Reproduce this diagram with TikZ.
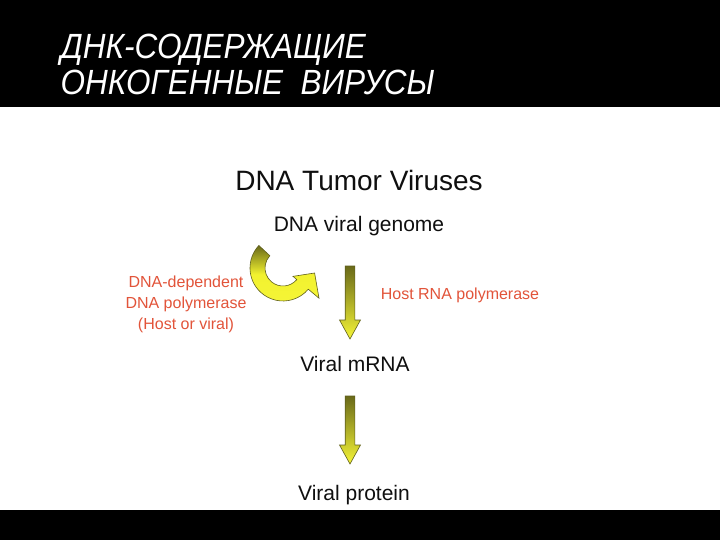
\documentclass[tikz,border=0pt]{standalone}
\usepackage{fontspec}
\setmainfont{Liberation Sans}
\newfontfamily\titlefont[FakeStretch=0.9]{Liberation Sans}

\definecolor{arrowdark}{RGB}{105,105,25}
\definecolor{arrowedge}{RGB}{95,95,30}
\definecolor{arrowmid}{RGB}{228,228,15}
\definecolor{arrowlight}{RGB}{245,245,55}
\definecolor{labelred}{RGB}{226,84,58}
\definecolor{bodytext}{RGB}{15,15,15}

\tikzset{every picture/.style={line width=0.75pt}}
\tikzset{
	arrow shade/.style={draw=arrowedge, line width=0.6pt, top color=arrowdark, middle color=arrowmid, bottom color=arrowlight},
	title text/.style={text=white, anchor=base west, font=\titlefont\itshape\fontsize{35}{40}\selectfont},
	step text/.style={text=bodytext, anchor=base, font=\fontsize{21}{25}\selectfont},
	enzyme text/.style={text=labelred, align=center, font=\fontsize{16}{21}\selectfont},
	pics/blockdown/.style={code={
		\shade[arrow shade] (-4.8,0) -- (4.8,0) -- (4.8,-#1+19) -- (10.5,-#1+19) -- (0,-#1) -- (-10.5,-#1+19) -- (-4.8,-#1+19) -- cycle ;
	}}
}

\begin{document}
\begin{tikzpicture}[x=1pt,y=1pt,yscale=-1,xscale=1]
	\useasboundingbox (0,0) rectangle (720,540);

	%Shape: Rectangle [background]
	\fill [white] (0,0) rectangle (720,540);
	%Shape: Rectangle [top band]
	\fill [black] (0,0) rectangle (720,107);
	%Shape: Rectangle [bottom band]
	\fill [black] (0,510) rectangle (720,540);

	% Text Node
	\node [title text] (title1) at (57,59) {ДНК-СОДЕРЖАЩИЕ};
	% Text Node
	\node [title text] (title2) at (57,95) {ОНКОГЕННЫЕ\ \ ВИРУСЫ};

	% Text Node
	\node [text=bodytext, anchor=base, font=\fontsize{28}{32}\selectfont] (heading) at (359,191) {DNA Tumor Viruses};
	% Text Node
	\node [step text] (genome) at (359,232) {DNA viral genome};
	% Text Node
	\node [step text] (mrna) at (355,371) {Viral mRNA};
	% Text Node
	\node [step text] (protein) at (354,500) {Viral protein};
	% Text Node
	\node [enzyme text] (dnapol) at (186,304) {DNA-dependent\\DNA polymerase\\(Host or viral)};
	% Text Node
	\node [enzyme text] (rnapol) at (460,295) {Host RNA polymerase};

	%Shape: Circular Arrow
	\coordinate (curl) at (283,268);
	\shade [arrow shade, middle color=arrowlight!80!arrowmid] ([shift={(223:33)}]curl) arc [start angle=223, end angle=40, radius=33] -- ([shift={(40:47)}]curl) -- ([shift={(9:32)}]curl) -- ([shift={(40:13)}]curl) -- ([shift={(40:18)}]curl) arc [start angle=40, end angle=223, radius=18] -- cycle ;

	%Shape: Down Arrow
	\coordinate (arr1) at (350,266);
	\pic at (arr1) {blockdown=73};
	%Shape: Down Arrow
	\coordinate (arr2) at (350,396);
	\pic at (arr2) {blockdown=68};

\end{tikzpicture}
\end{document}
